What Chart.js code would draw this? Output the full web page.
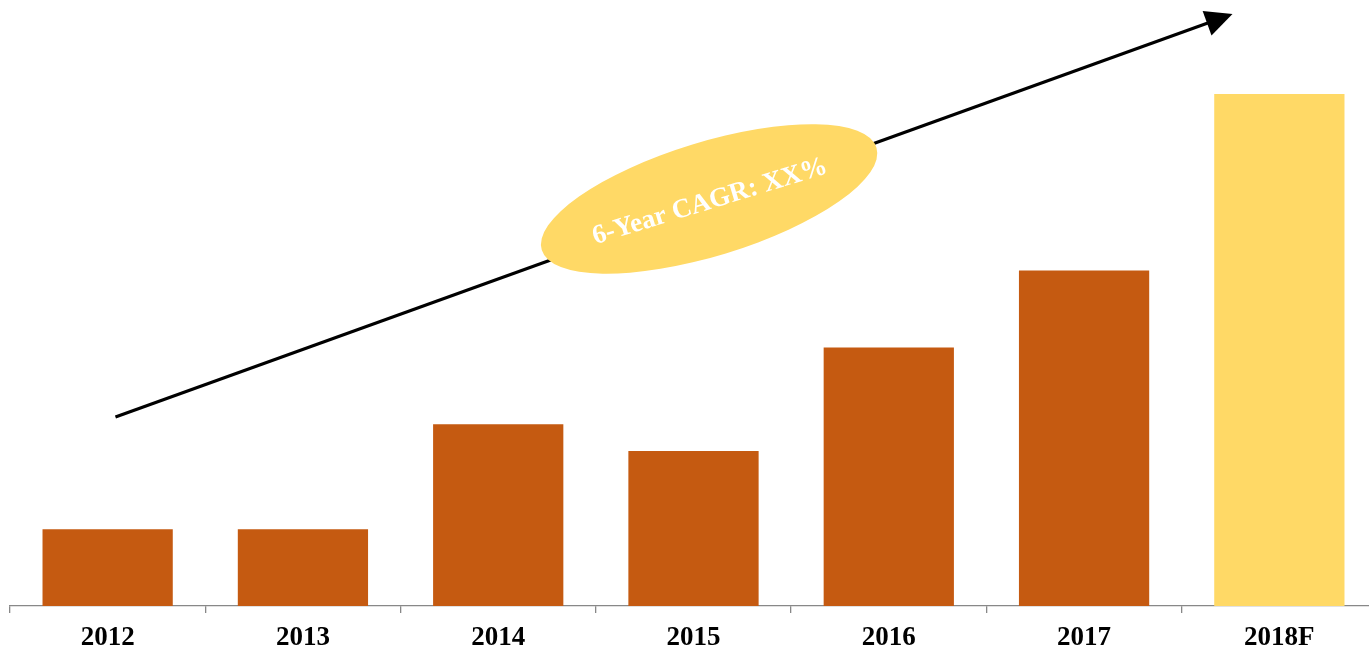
<!DOCTYPE html>
<html>
<head>
<meta charset="utf-8">
<script src="https://cdn.jsdelivr.net/npm/chart.js@4"></script>
<style>
  html, body { margin: 0; padding: 0; background: #fff; overflow: hidden; }
  #wrap { width: 1380px; height: 650px; }
</style>
</head>
<body>
<div id="wrap"><canvas id="growthChart" width="1380" height="650"></canvas></div>
<script>
const years = ["2012", "2013", "2014", "2015", "2016", "2017", "2018F"];
const values = [3, 3, 7.1, 6.05, 10.1, 13.1, 20];
const barColors = ["#C55A11", "#C55A11", "#C55A11", "#C55A11", "#C55A11", "#C55A11", "#FFD966"];
const cagrLabel = "6-Year CAGR: XX%";

// trend arrow + bubble, in axis units (category index, value)
const trend = { from: [0.04, 7.38], to: [5.76, 23.12] };
const bubble = { at: [3.08, 15.9], rx: 175, ry: 57, angle: -17 };

const overlay = {
  id: "overlay",
  afterDatasetsDraw(c) {
    const x = c.scales.x, y = c.scales.y, ctx = c.ctx;
    const x1 = x.getPixelForValue(trend.from[0]), y1 = y.getPixelForValue(trend.from[1]);
    const x2 = x.getPixelForValue(trend.to[0]), y2 = y.getPixelForValue(trend.to[1]);
    const a = Math.atan2(y2 - y1, x2 - x1);
    const head = 30;

    ctx.save();
    ctx.strokeStyle = "#000";
    ctx.fillStyle = "#000";
    ctx.lineWidth = 3.2;
    ctx.beginPath();
    ctx.moveTo(x1, y1);
    ctx.lineTo(x2 - Math.cos(a) * head * 0.8, y2 - Math.sin(a) * head * 0.8);
    ctx.stroke();
    ctx.beginPath();
    ctx.moveTo(x2, y2);
    ctx.lineTo(x2 - head * Math.cos(a - 0.45), y2 - head * Math.sin(a - 0.45));
    ctx.lineTo(x2 - head * Math.cos(a + 0.45), y2 - head * Math.sin(a + 0.45));
    ctx.closePath();
    ctx.fill();

    const cx = x.getPixelForValue(bubble.at[0]), cy = y.getPixelForValue(bubble.at[1]);
    const rot = bubble.angle * Math.PI / 180;
    ctx.fillStyle = "#FFD966";
    ctx.beginPath();
    ctx.ellipse(cx, cy, bubble.rx, bubble.ry, rot, 0, Math.PI * 2);
    ctx.fill();

    ctx.translate(cx, cy);
    ctx.rotate(rot);
    ctx.fillStyle = "#fff";
    ctx.font = "bold 27px 'Liberation Serif', 'Times New Roman', serif";
    ctx.textAlign = "center";
    ctx.textBaseline = "middle";
    ctx.fillText(cagrLabel, 0, 3);
    ctx.restore();
  }
};

new Chart(document.getElementById("growthChart"), {
  type: "bar",
  data: {
    labels: years,
    datasets: [{
      data: values,
      backgroundColor: barColors,
      categoryPercentage: 1,
      barPercentage: 0.667
    }]
  },
  options: {
    responsive: false,
    animation: false,
    layout: { padding: { left: 10, right: 3, top: 0, bottom: 0 } },
    plugins: { legend: { display: false }, tooltip: { enabled: false } },
    scales: {
      x: {
        afterFit(s) { s.height = 44; },
        grid: { drawOnChartArea: false, drawTicks: true, tickLength: 7, color: "#888", lineWidth: 1.3, offset: true },
        border: { display: true, color: "#888", width: 1.3 },
        ticks: {
          color: "#000",
          padding: 9,
          font: { family: "'Liberation Serif', 'Times New Roman', serif", size: 27, weight: "bold" }
        }
      },
      y: {
        display: false,
        min: 0,
        max: 23.67
      }
    }
  },
  plugins: [overlay]
});
</script>
</body>
</html>
